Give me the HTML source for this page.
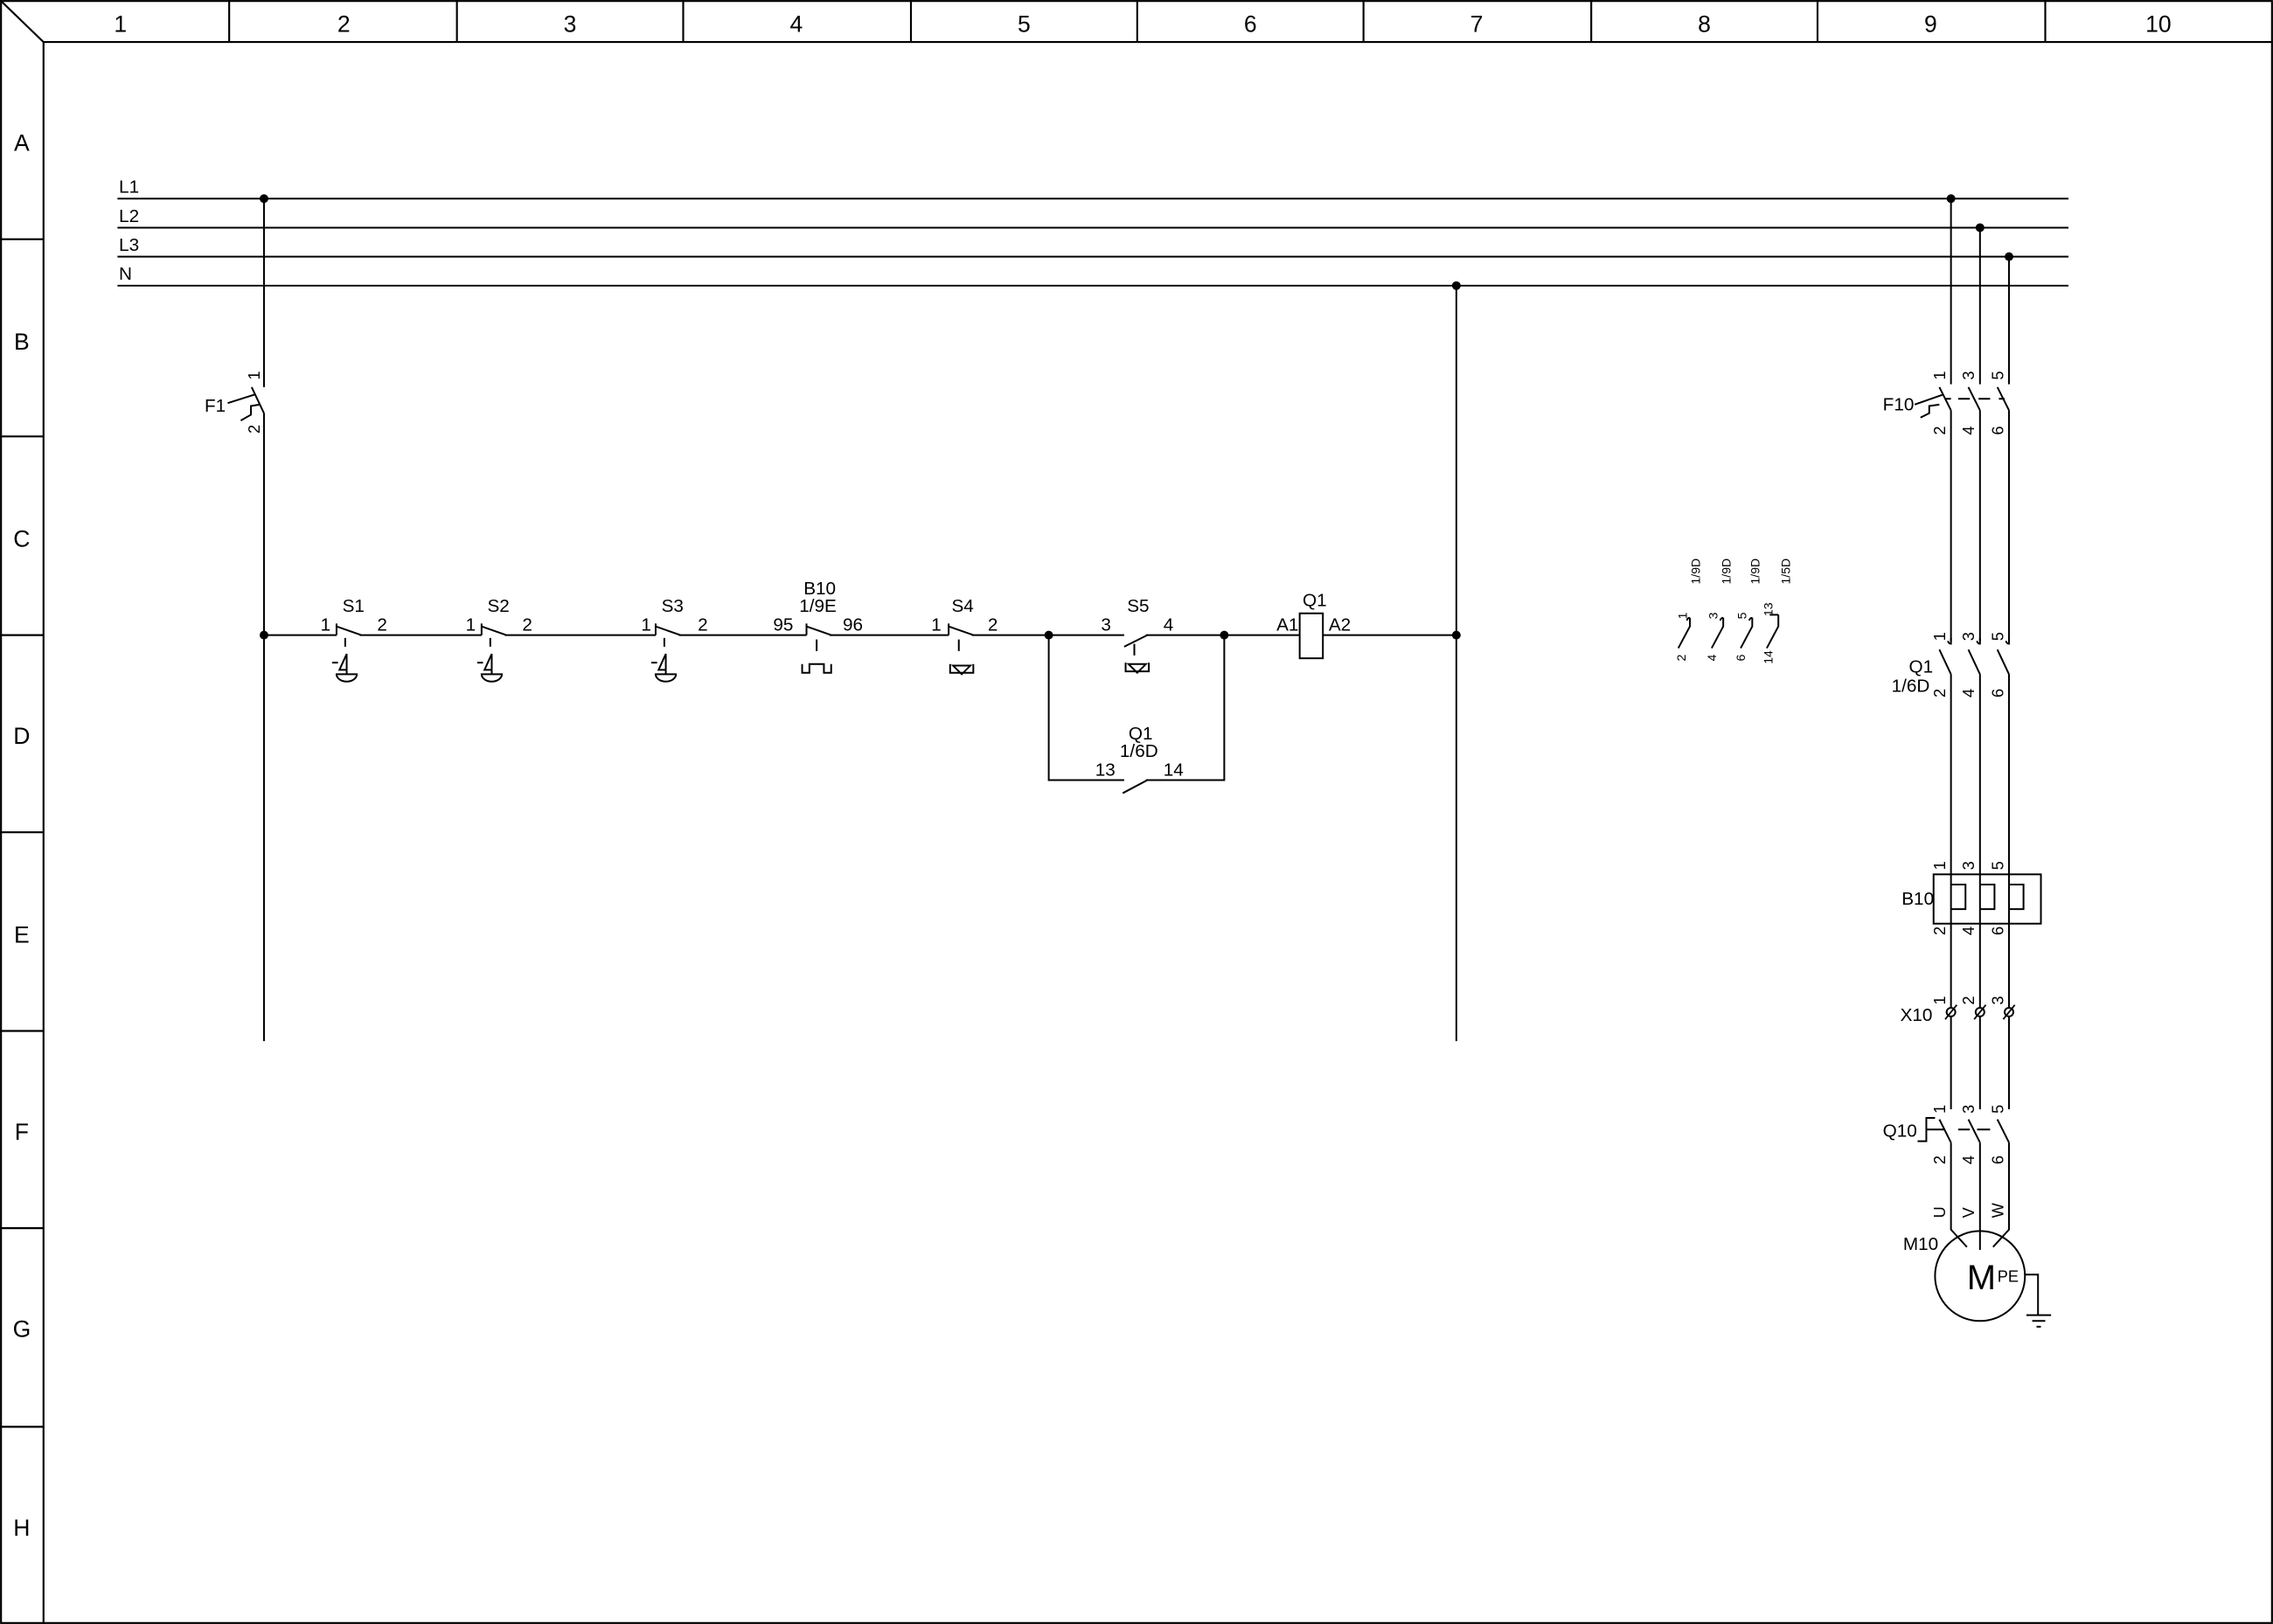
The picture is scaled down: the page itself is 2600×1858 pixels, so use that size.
<!DOCTYPE html>
<html><head><meta charset="utf-8"><style>
html,body{margin:0;padding:0;background:#fff;}
svg{display:block;}
text{font-family:"Liberation Sans",sans-serif;fill:#000;}
</style></head><body>
<svg width="2600" height="1858" viewBox="0 0 1567 1120" preserveAspectRatio="none" xmlns="http://www.w3.org/2000/svg">
<g fill="none" stroke="#000" stroke-width="1.3">
<rect x="0.7" y="0.7" width="1565.6" height="1118.6"/>
<line x1="30" y1="29" x2="1567" y2="29"/>
<line x1="30" y1="29" x2="30" y2="1120"/>
<line x1="0" y1="0" x2="30" y2="29"/>
<line x1="158" y1="0" x2="158" y2="29"/><line x1="315" y1="0" x2="315" y2="29"/>
<line x1="471" y1="0" x2="471" y2="29"/><line x1="628" y1="0" x2="628" y2="29"/>
<line x1="784" y1="0" x2="784" y2="29"/><line x1="940" y1="0" x2="940" y2="29"/>
<line x1="1097" y1="0" x2="1097" y2="29"/><line x1="1253" y1="0" x2="1253" y2="29"/>
<line x1="1410" y1="0" x2="1410" y2="29"/>
<line x1="0" y1="165" x2="30" y2="165"/><line x1="0" y1="301" x2="30" y2="301"/>
<line x1="0" y1="438" x2="30" y2="438"/><line x1="0" y1="574" x2="30" y2="574"/>
<line x1="0" y1="711" x2="30" y2="711"/><line x1="0" y1="847" x2="30" y2="847"/>
<line x1="0" y1="984" x2="30" y2="984"/>
</g>
<g font-size="16" text-anchor="middle">
<text x="83" y="22">1</text><text x="237" y="22">2</text><text x="393" y="22">3</text>
<text x="549" y="22">4</text><text x="706" y="22">5</text><text x="862" y="22">6</text>
<text x="1018" y="22">7</text><text x="1175" y="22">8</text><text x="1331" y="22">9</text>
<text x="1488" y="22">10</text>
<text x="15" y="104">A</text><text x="15" y="241">B</text><text x="15" y="377">C</text>
<text x="15" y="513">D</text><text x="15" y="650">E</text><text x="15" y="786">F</text>
<text x="15" y="922">G</text><text x="15" y="1059">H</text>
</g>
<g fill="none" stroke="#000" stroke-width="1.2">
<line x1="81" y1="137" x2="1426" y2="137"/><line x1="81" y1="157" x2="1426" y2="157"/>
<line x1="81" y1="177" x2="1426" y2="177"/><line x1="81" y1="197" x2="1426" y2="197"/>
<line x1="182" y1="137" x2="182" y2="267"/>
<line x1="173.5" y1="267" x2="182" y2="285"/>
<line x1="182" y1="285" x2="182" y2="718"/>
<line x1="157" y1="278" x2="176" y2="272"/>
<path d="M166,290 L173,286 L173,280 L179,279"/>
<line x1="1004" y1="197" x2="1004" y2="718"/>
<line x1="182" y1="438" x2="232" y2="438"/>
<line x1="248" y1="438" x2="332" y2="438"/>
<line x1="348" y1="438" x2="452" y2="438"/>
<line x1="468" y1="438" x2="556" y2="438"/>
<line x1="572" y1="438" x2="654" y2="438"/>
<line x1="670" y1="438" x2="775" y2="438"/>
<line x1="790" y1="438" x2="896" y2="438"/>
<line x1="912" y1="438" x2="1004" y2="438"/>
<path d="M232,430 L232,438 M232,432 L249,438"/>
<path d="M332,430 L332,438 M332,432 L349,438"/>
<path d="M452,430 L452,438 M452,432 L469,438"/>
<path d="M556,430 L556,438 M556,432 L573,438"/>
<path d="M654,430 L654,438 M654,432 L671,438"/>
<path d="M238,440 V446 M338,440 V446 M458,440 V446 M563,441 V449 M661,441 V449" />
<path d="M229,457 H233 M234,462 L239,451 V462 Z M239,462 V465 M232,465 H246 A7,5 0 0 1 232,465 Z"/>
<path d="M329,457 H333 M334,462 L339,451 V462 Z M339,462 V465 M332,465 H346 A7,5 0 0 1 332,465 Z"/>
<path d="M449,457 H453 M454,462 L459,451 V462 Z M459,462 V465 M452,465 H466 A7,5 0 0 1 452,465 Z"/>
<path d="M553,458 V464 H558 V458 H568 V464 H573 V458"/>
<path d="M655,458 V464 H671 V458 M657,459 H669 L663,465 Z"/>
<path d="M775,446 L791,438"/>
<path d="M782,444 V452 M776,457 V463 H792 V457 M778,458 H790 L784,464 Z"/>
<path d="M723,438 V538 H775 M790,538 H844 V438"/>
<path d="M774,547 L791,538"/>
<rect x="896" y="423" width="16" height="31"/>
<path d="M1157,447 L1165,432 V426 M1163,428 A2,2 0 0 1 1165,426"/>
<path d="M1180,447 L1188,432 V426 M1186,428 A2,2 0 0 1 1188,426"/>
<path d="M1200,447 L1208,432 V426 M1206,428 A2,2 0 0 1 1208,426"/>
<path d="M1218,447 L1226,432 V424 M1220,424 H1226"/>
<path d="M1345,137 V265 M1365,157 V265 M1385,177 V265"/>
<path d="M1337,267 L1345,283 M1357,267 L1365,283 M1377,267 L1385,283"/>
<path d="M1341,275 H1345 M1350,275 H1358 M1364,275 H1372 M1378,275 H1382" />
<path d="M1320,279 L1340,272 M1324,288 L1330,285 V280 L1337,279"/>
<path d="M1345,283 V442 M1365,283 V442 M1385,283 V442"/>
<path d="M1345,440 V444 A2,2 0 0 1 1343,442 M1365,440 V444 A2,2 0 0 1 1363,442 M1385,440 V444 A2,2 0 0 1 1383,442"/>
<path d="M1337,448 L1345,465 M1357,448 L1365,465 M1377,448 L1385,465"/>
<path d="M1345,465 V765 M1365,465 V765 M1385,465 V765"/>
<rect x="1333" y="603" width="74" height="34"/>
<path d="M1345,610 H1355 V627 H1345 M1365,610 H1375 V627 H1365 M1385,610 H1395 V627 H1385"/>
<path d="M1337,772 L1345,788 M1357,772 L1365,788 M1377,772 L1385,788"/>
<path d="M1322,787 H1328 V771 H1334 M1328,779 H1341 M1350,779 H1358 M1363,779 H1372"/>
<path d="M1345,788 V848 L1356,860 M1365,788 V862 M1385,788 V848 L1374,860"/>
<circle cx="1365" cy="880" r="31"/>
<path d="M1396,879 H1405 V907 M1397,907 H1414 M1401,911 H1410 M1404,915 H1407"/>
</g>
<g fill="#fff" stroke="#000" stroke-width="1.2">
<circle cx="1345" cy="698" r="3"/><circle cx="1365" cy="698" r="3"/><circle cx="1385" cy="698" r="3"/>
</g>
<g stroke="#000" stroke-width="1.1">
<line x1="1341" y1="703" x2="1349" y2="693"/><line x1="1361" y1="703" x2="1369" y2="693"/><line x1="1381" y1="703" x2="1389" y2="693"/>
</g>
<g fill="#000">
<circle cx="182" cy="137" r="3"/><circle cx="1345" cy="137" r="3"/><circle cx="1365" cy="157" r="3"/>
<circle cx="1385" cy="177" r="3"/><circle cx="1004" cy="197" r="3"/>
<circle cx="182" cy="438" r="3"/><circle cx="723" cy="438" r="3"/><circle cx="844" cy="438" r="3"/>
<circle cx="1004" cy="438" r="3"/>
</g>
<g font-size="12.5">
<text x="82" y="133">L1</text><text x="82" y="153">L2</text><text x="82" y="173">L3</text><text x="82" y="193">N</text>
<text x="141" y="284">F1</text>
<text x="236" y="422">S1</text><text x="221" y="435">1</text><text x="260" y="435">2</text>
<text x="336" y="422">S2</text><text x="321" y="435">1</text><text x="360" y="435">2</text>
<text x="456" y="422">S3</text><text x="442" y="435">1</text><text x="481" y="435">2</text>
<text x="554" y="410">B10</text><text x="551" y="422">1/9E</text><text x="533" y="435">95</text><text x="581" y="435">96</text>
<text x="656" y="422">S4</text><text x="642" y="435">1</text><text x="681" y="435">2</text>
<text x="777" y="422">S5</text><text x="759" y="435">3</text><text x="802" y="435">4</text>
<text x="898" y="418">Q1</text><text x="880" y="435">A1</text><text x="916" y="435">A2</text>
<text x="778" y="510">Q1</text><text x="772" y="522">1/6D</text><text x="755" y="535">13</text><text x="802" y="535">14</text>
<text x="1298" y="283">F10</text>
<text x="1316" y="464">Q1</text><text x="1304" y="477">1/6D</text>
<text x="1311" y="624">B10</text>
<text x="1310" y="704">X10</text>
<text x="1298" y="784">Q10</text>
<text x="1312" y="862">M10</text>
</g>
<text x="1356" y="889" font-size="24">M</text><text x="1377" y="884" font-size="11">PE</text>
<g font-size="11">
<text transform="translate(179,262) rotate(-90)">1</text>
<text transform="translate(179,299) rotate(-90)">2</text>
<text transform="translate(1341,262) rotate(-90)">1</text><text transform="translate(1361,262) rotate(-90)">3</text><text transform="translate(1381,262) rotate(-90)">5</text>
<text transform="translate(1341,300) rotate(-90)">2</text><text transform="translate(1361,300) rotate(-90)">4</text><text transform="translate(1381,300) rotate(-90)">6</text>
<text transform="translate(1341,442) rotate(-90)">1</text><text transform="translate(1361,442) rotate(-90)">3</text><text transform="translate(1381,442) rotate(-90)">5</text>
<text transform="translate(1341,481) rotate(-90)">2</text><text transform="translate(1361,481) rotate(-90)">4</text><text transform="translate(1381,481) rotate(-90)">6</text>
<text transform="translate(1341,600) rotate(-90)">1</text><text transform="translate(1361,600) rotate(-90)">3</text><text transform="translate(1381,600) rotate(-90)">5</text>
<text transform="translate(1341,645) rotate(-90)">2</text><text transform="translate(1361,645) rotate(-90)">4</text><text transform="translate(1381,645) rotate(-90)">6</text>
<text transform="translate(1341,693) rotate(-90)">1</text><text transform="translate(1361,693) rotate(-90)">2</text><text transform="translate(1381,693) rotate(-90)">3</text>
<text transform="translate(1341,768) rotate(-90)">1</text><text transform="translate(1361,768) rotate(-90)">3</text><text transform="translate(1381,768) rotate(-90)">5</text>
<text transform="translate(1341,803) rotate(-90)">2</text><text transform="translate(1361,803) rotate(-90)">4</text><text transform="translate(1381,803) rotate(-90)">6</text>
<text transform="translate(1341,840) rotate(-90)">U</text><text transform="translate(1361,840) rotate(-90)">V</text><text transform="translate(1381,840) rotate(-90)">W</text>
</g>
<g font-size="8.5">
<text transform="translate(1172,403) rotate(-90)">1/9D</text>
<text transform="translate(1193,403) rotate(-90)">1/9D</text>
<text transform="translate(1213,403) rotate(-90)">1/9D</text>
<text transform="translate(1234,403) rotate(-90)">1/5D</text>
<text transform="translate(1163,427) rotate(-90)">1</text><text transform="translate(1184,427) rotate(-90)">3</text>
<text transform="translate(1204,427) rotate(-90)">5</text><text transform="translate(1222,425) rotate(-90)">13</text>
<text transform="translate(1162,456) rotate(-90)">2</text><text transform="translate(1183,456) rotate(-90)">4</text>
<text transform="translate(1203,456) rotate(-90)">6</text><text transform="translate(1222,458) rotate(-90)">14</text>
</g>
</svg>
</body></html>
